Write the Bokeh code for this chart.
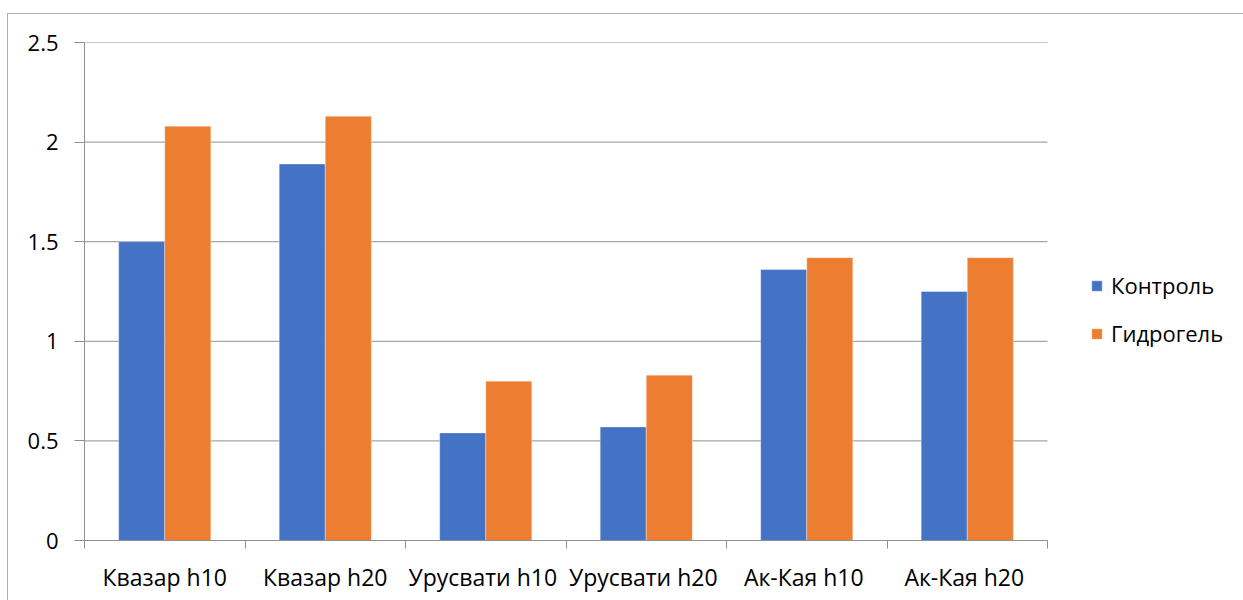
from bokeh.plotting import figure
from bokeh.models import (ColumnDataSource, FixedTicker, Legend, LegendItem,
                          Range1d)
from bokeh.embed import file_html
from bokeh.resources import INLINE

# Crop samples and their measured values
categories = ["Квазар h10", "Квазар h20", "Урусвати  h10", "Урусвати  h20",
              "Ак-Кая  h10", "Ак-Кая  h20"]
control = [1.50, 1.89, 0.54, 0.57, 1.36, 1.25]
hydrogel = [2.08, 2.13, 0.80, 0.83, 1.42, 1.42]
series_names = ["Контроль", "Гидрогель"]
y_ticks = [0, 0.5, 1, 1.5, 2, 2.5]

FONT = "Open Sans"
GRID = "#8f8f8f"
BLUE = "#4472C4"
ORANGE = "#ED7D31"
BAR_W = 0.287

n = len(categories)
centers = [i + 0.5 for i in range(n)]
src = ColumnDataSource(dict(
    x_ctrl=[c - BAR_W / 2 for c in centers],
    x_hyd=[c + BAR_W / 2 for c in centers],
    control=control,
    hydrogel=hydrogel,
))

# The frame runs on past the last group so the legend can live inside it;
# the plotted groups take 963 of the frame's 1160 pixels.
FIG_W, LEFT = 1236, 76
x_end = n * (FIG_W - LEFT) / 963

p = figure(width=FIG_W, height=587, output_backend="svg", toolbar_location=None,
           x_range=Range1d(0, x_end), y_range=Range1d(0, 2.5),
           min_border_left=LEFT, min_border_right=0,
           min_border_top=28, min_border_bottom=61)
p.margin = (13, 0, 0, 7)
p.styles = {"border-top": "1px solid #b0b0b0", "border-left": "1px solid #b0b0b0"}
p.outline_line_color = None
p.background_fill_color = "white"
p.border_fill_color = "white"

# Horizontal gridlines limited to the category span
p.xgrid.visible = False
p.ygrid.visible = False
p.segment(x0=[0] * len(y_ticks), x1=[n] * len(y_ticks), y0=y_ticks, y1=y_ticks,
          line_color=GRID, line_width=1, level="underlay")

r1 = p.vbar(x="x_ctrl", top="control", width=BAR_W, source=src,
            fill_color=BLUE, line_color="white", line_alpha=0.35, line_width=1)
r2 = p.vbar(x="x_hyd", top="hydrogel", width=BAR_W, source=src,
            fill_color=ORANGE, line_color="white", line_alpha=0.35, line_width=1)

# Y axis
ya = p.yaxis[0]
ya.ticker = FixedTicker(ticks=y_ticks)
ya.axis_line_color = GRID
ya.major_tick_line_color = GRID
ya.major_tick_out = 10
ya.major_tick_in = 0
ya.minor_tick_line_color = None
ya.major_label_standoff = 16
ya.major_label_text_font = FONT
ya.major_label_text_font_size = "22px"
ya.major_label_text_color = "black"
ya.major_label_overrides = {t: (str(t) if t != int(t) else str(int(t))) for t in y_ticks}

# X axis: labels at group centres, ticks at group boundaries
xa = p.xaxis[0]
xa.bounds = (0, n)
xa.ticker = FixedTicker(ticks=centers, minor_ticks=list(range(n + 1)))
xa.major_label_overrides = {c: name for c, name in zip(centers, categories)}
xa.axis_line_color = GRID
xa.major_tick_line_color = None
xa.major_tick_out = 8
xa.major_tick_in = 0
xa.minor_tick_line_color = GRID
xa.minor_tick_out = 8
xa.minor_tick_in = 0
xa.major_label_standoff = 12
xa.major_label_text_font = FONT
xa.major_label_text_font_size = "23px"
xa.major_label_text_color = "black"

legend = Legend(items=[LegendItem(label=series_names[0], renderers=[r1]),
                       LegendItem(label=series_names[1], renderers=[r2])],
                location=(1006, 192), orientation="vertical",
                padding=0, margin=0, spacing=18,
                glyph_width=13, glyph_height=13, label_height=29,
                label_standoff=8,
                label_text_font=FONT, label_text_font_size="22px",
                label_text_color="black",
                border_line_color=None, background_fill_alpha=0)
p.add_layout(legend)

open("out.html", "w").write(file_html(p, INLINE))
